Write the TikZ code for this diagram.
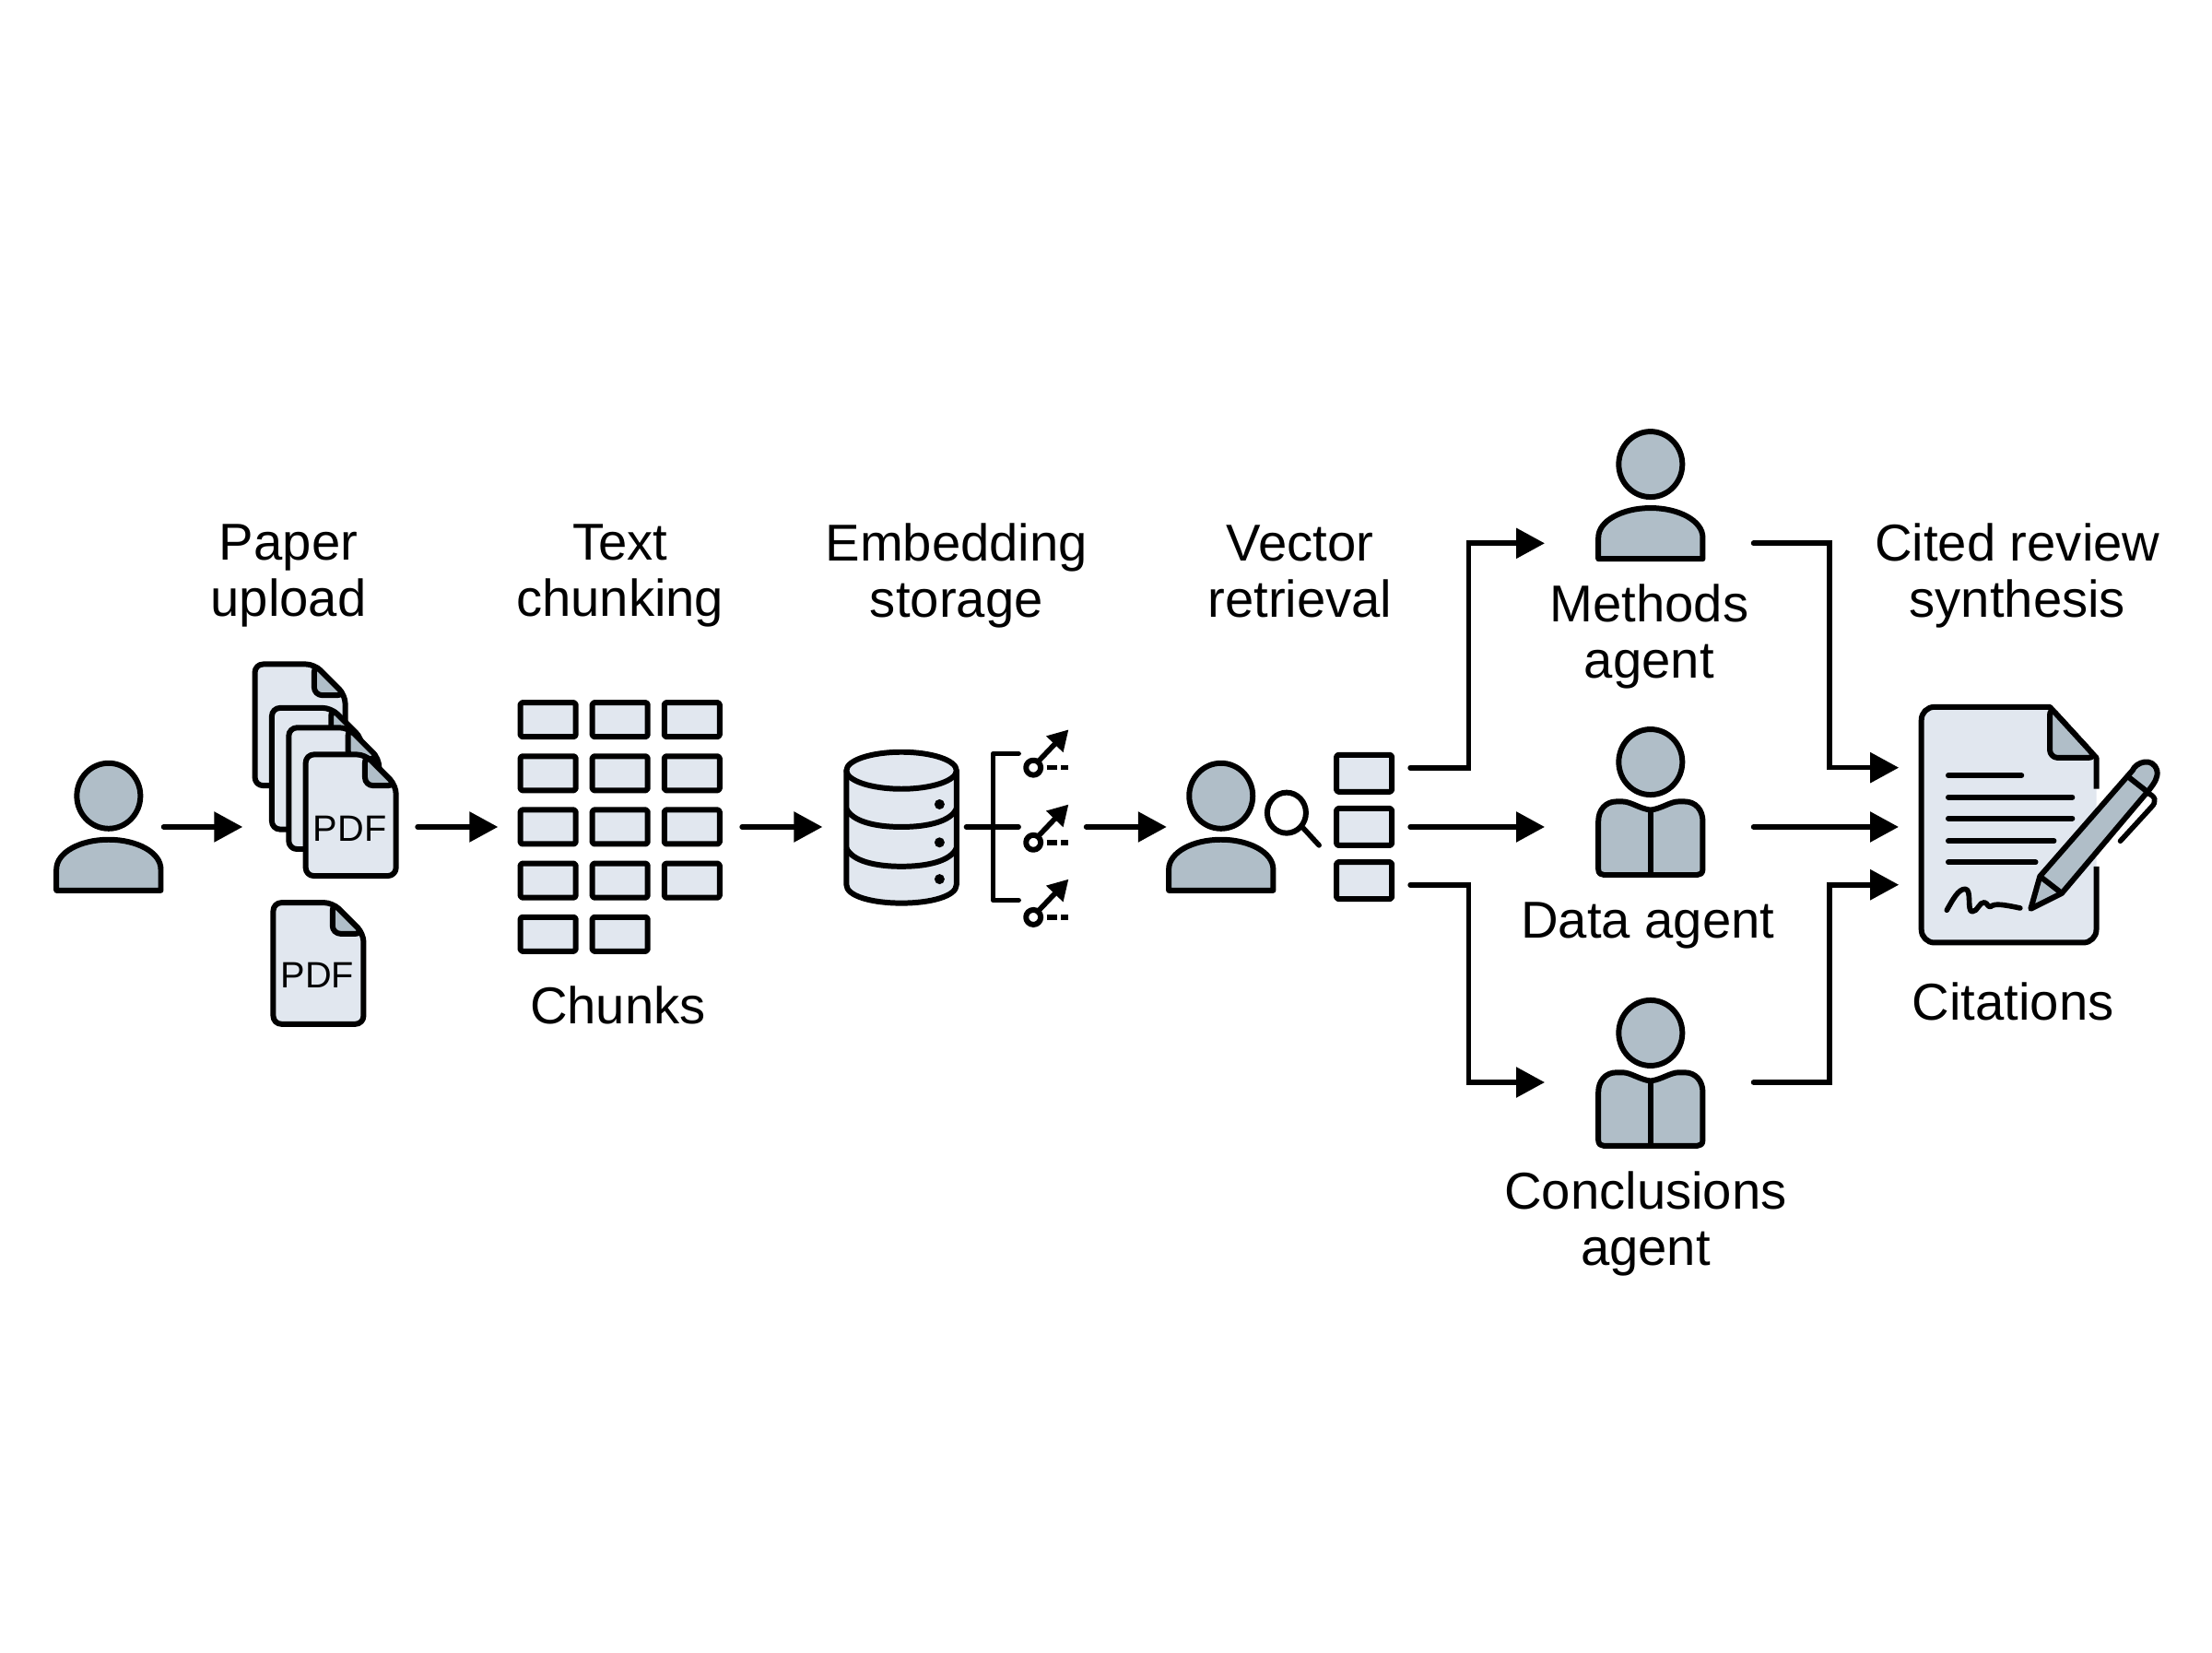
\documentclass[tikz,border=0pt]{standalone}
\usepackage{fontspec}
\setmainfont{Liberation Sans}
\usetikzlibrary{arrows.meta}
\definecolor{sheetfill}{RGB}{225,231,239}
\definecolor{slatefill}{RGB}{176,190,200}
\tikzset{
  iconline/.style={draw=black, line width=1.7pt, line join=round},
  flow/.style={draw=black, line width=1.6pt, line cap=round, -{Triangle[length=3.1mm,width=3.2mm]}},
  elbow/.style={draw=black, line width=1.6pt, line cap=round},
  anchorbox/.style={inner sep=0pt, outer sep=0pt, minimum height=0.4cm},
  steplabel/.style={font=\fontsize{16}{17.4}\selectfont, align=center, inner sep=0pt},
  pdflabel/.style={font=\fontsize{11.3}{12}\selectfont, inner sep=0pt},
  chunkbox/.style={iconline, fill=sheetfill, rounded corners=0.5pt, inner sep=0pt, minimum width=0.6cm, minimum height=0.37cm},
  listbox/.style={iconline, fill=sheetfill, rounded corners=0.5pt, inner sep=0pt, outer sep=2mm, minimum width=0.6cm, minimum height=0.4cm},
  person/.pic={
    \draw[iconline, fill=slatefill] (0,0) circle[x radius=3.45mm, y radius=3.55mm];
    \draw[iconline, fill=slatefill] (-37,67) -- (-37,52) .. controls (-37,40) and (-20,31) .. (0,31)
      .. controls (20,31) and (37,40) .. (37,52) -- (37,67) -- cycle;
  },
  reader/.pic={
    \draw[iconline, fill=slatefill] (0,0) circle[x radius=3.45mm, y radius=3.55mm];
    \draw[iconline, fill=slatefill] (0,34) .. controls (-8,33) and (-14,28) .. (-20,28) -- (-24,28)
      .. controls (-32,28) and (-37,34) .. (-37,42) -- (-37,76) .. controls (-37,79) and (-35,80) .. (-33,80)
      -- (33,80) .. controls (35,80) and (37,79) .. (37,76) -- (37,42)
      .. controls (37,34) and (32,28) .. (24,28) -- (20,28) .. controls (14,28) and (8,33) .. (0,34) -- cycle;
    \draw[iconline] (0,34) -- (0,80);
  },
  pdfsheet/.pic={
    \draw[iconline, fill=sheetfill, rounded corners=2.5pt] (42,0) -- (0,0) -- (0,86) -- (64,86) -- (64,22) -- cycle;
    \draw[iconline, fill=slatefill, rounded corners=2.5pt] (42,0) -- (42,22) -- (64,22) -- cycle;
  },
  keyglyph/.pic={
    \draw[draw=black, line width=1.6pt, -{Triangle[length=2.2mm,width=2.4mm]}] (4,-5) -- (25,-27);
    \draw[iconline, fill=white] (0,0) circle[radius=0.8mm];
    \draw[draw=black, line width=1.6pt, dash pattern=on 1.1mm off 0.45mm] (9.5,0) -- (25,0);
  }
}
\begin{document}
\begin{tikzpicture}[x=0.015306cm, y=-0.015306cm]
\useasboundingbox (0,0) rectangle (1568,1170.8);
% Labels
\node[steplabel] (lupload) at (204.5,408) {Paper\\upload};
\node[steplabel] (lchunk) at (439.5,408) {Text\\chunking};
\node[steplabel] (lstore) at (678,408) {Embedding\\storage};
\node[steplabel] (lvector) at (921.5,405) {Vector\\retrieval};
\node[steplabel] (lreview) at (1430,408) {Cited review\\synthesis};
\node[steplabel] (lchunks) at (438,712.5) {Chunks};
\node[steplabel] (lmethods) at (1169,451) {Methods\\agent};
\node[steplabel] (ldata) at (1168,656) {Data agent};
\node[steplabel] (lconcl) at (1166.5,867) {Conclusions\\agent};
\node[steplabel] (lcite) at (1427,710) {Citations};
% Uploader
\pic (uploader) at (77,564) {person};
\node[anchorbox, minimum width=1.194cm] (user) at (77,586) {};
% Paper stack
\pic (sheeta) at (180.7,470.7) {pdfsheet};
\pic (sheetb) at (192.7,501.7) {pdfsheet};
\pic (sheetc) at (204.7,515.7) {pdfsheet};
\pic (sheetd) at (216.7,534.7) {pdfsheet};
\node[pdflabel] (pdfd) at (248,587) {PDF};
\pic (sheete) at (193.7,639.7) {pdfsheet};
\node[pdflabel] (pdfe) at (225,691) {PDF};
\node[anchorbox, minimum width=1.898cm] (stack) at (234,586) {};
% Chunks
\foreach \r/\yy in {1/510,2/548,3/586,4/624,5/662}
  \foreach \c/\xx in {1/388.5,2/439.5,3/490.5}{
    \ifnum\r\c=53\relax\else
      \node[chunkbox] (chunk\r\c) at (\xx,\yy) {};
    \fi
  }
\node[anchorbox, minimum width=2.648cm] (grid) at (439.5,586) {};
% Database
\draw[iconline, fill=sheetfill] (600,546) -- (600,627) .. controls (600,635) and (618,640) .. (639,640)
  .. controls (660,640) and (678,635) .. (678,627) -- (678,546) -- cycle;
\draw[iconline, fill=sheetfill] (639,546) circle[x radius=0.597cm, y radius=0.2cm];
\draw[iconline] (600,573) .. controls (604,582) and (620,586) .. (639,586) .. controls (658,586) and (674,582) .. (678,573);
\draw[iconline] (600,601) .. controls (604,610) and (620,614) .. (639,614) .. controls (658,614) and (674,610) .. (678,601);
\foreach \yy in {570,597,623}
  \fill (666,\yy) circle[radius=0.55mm];
\node[anchorbox, minimum width=2.862cm] (store) at (676.5,586) {};
% Bracket and keys
\draw[elbow, line join=round] (722,534) -- (704,534) -- (704,638) -- (722,638);
\draw[elbow] (685,586) -- (722,586);
\pic (keya) at (732.5,544) {keyglyph};
\pic (keyb) at (732.5,597) {keyglyph};
\pic (keyc) at (732.5,650) {keyglyph};
% Retriever
\pic (seeker) at (865.5,564) {person};
\node[anchorbox, minimum width=1.179cm] (retriever) at (865.5,586) {};
\draw[iconline] (912,576) circle[x radius=2.1mm, y radius=2.2mm];
\draw[elbow] (924,587) -- (935,599);
\node[listbox] (lista) at (967,548) {};
\node[listbox] (listb) at (967,586) {};
\node[listbox] (listc) at (967,624) {};
% Agents
\pic (agenta) at (1170,329) {person};
\pic (agentb) at (1170,540) {reader};
\pic (agentc) at (1170,732) {reader};
\node[anchorbox, minimum width=2.265cm] (methods) at (1169,385) {};
\node[anchorbox, minimum width=2.265cm] (data) at (1169,586) {};
\node[anchorbox, minimum width=2.265cm] (concl) at (1169,767) {};
% Review sheet
\fill[sheetfill, rounded corners=4pt] (1486,537) -- (1453,501) -- (1362,501) -- (1362,668) -- (1486,668) -- cycle;
\draw[iconline] (1486,559) -- (1486,537) -- (1453,501) [rounded corners=4pt] -- (1362,501) -- (1362,668) -- (1486,668) [sharp corners] -- (1486,614);
\draw[iconline, fill=slatefill, rounded corners=2.5pt] (1453,501) -- (1453,537) -- (1486,537) -- cycle;
\foreach \yy/\xx in {549.5/1433,565/1469,580/1469,596/1456,611/1443}
  \draw[elbow] (1381,\yy) -- (\xx,\yy);
\draw[elbow, line join=round] (1380,645) .. controls (1384,638) and (1388,630) .. (1393,630)
  .. controls (1398,630) and (1394,646) .. (1398,646) .. controls (1402,646) and (1403,639) .. (1406.6,639.5)
  .. controls (1409,640) and (1409,643) .. (1411,642.5) .. controls (1414,640) and (1420,641) .. (1432,643.5);
% Pen
\draw[iconline, fill=slatefill] (1446,621) -- (1511.6,546) .. controls (1514,540) and (1526,536) .. (1529,546)
  .. controls (1530,551) and (1527,555) .. (1523.6,559.5) -- (1461.5,633) -- (1439.5,644) -- cycle;
\draw[iconline] (1446,621) -- (1461.5,633);
\draw[iconline] (1508,550) -- (1522,561);
\draw[elbow] (1522,562) .. controls (1528,564) and (1529,568) .. (1525,572) -- (1503,596);
\node[anchorbox, minimum width=2.3cm] (review) at (1421,586) {};
% Arrows
\coordinate (splitbus) at (1041,586);
\coordinate (mergebus) at (1297,586);
\coordinate (reviewtop) at (1346,544);
\coordinate (reviewlow) at (1346,627);
\draw[flow] (user.east) -- (stack.west);
\draw[flow] (stack.east) -- (grid.west);
\draw[flow] (grid.east) -- (store.west);
\draw[flow] (store.east) -- (retriever.west);
\draw[flow] ([yshift=0.6mm]lista.east) -- ([yshift=0.6mm]lista.east -| splitbus) |- (methods.west);
\draw[flow] (listb.east) -- (data.west);
\draw[flow] ([yshift=-0.46mm]listc.east) -- ([yshift=-0.46mm]listc.east -| splitbus) |- (concl.west);
\draw[flow] (methods.east) -- (methods.east -| mergebus) |- (reviewtop);
\draw[flow] (data.east) -- (review.west);
\draw[flow] (concl.east) -- (concl.east -| mergebus) |- (reviewlow);
\end{tikzpicture}
\end{document}
